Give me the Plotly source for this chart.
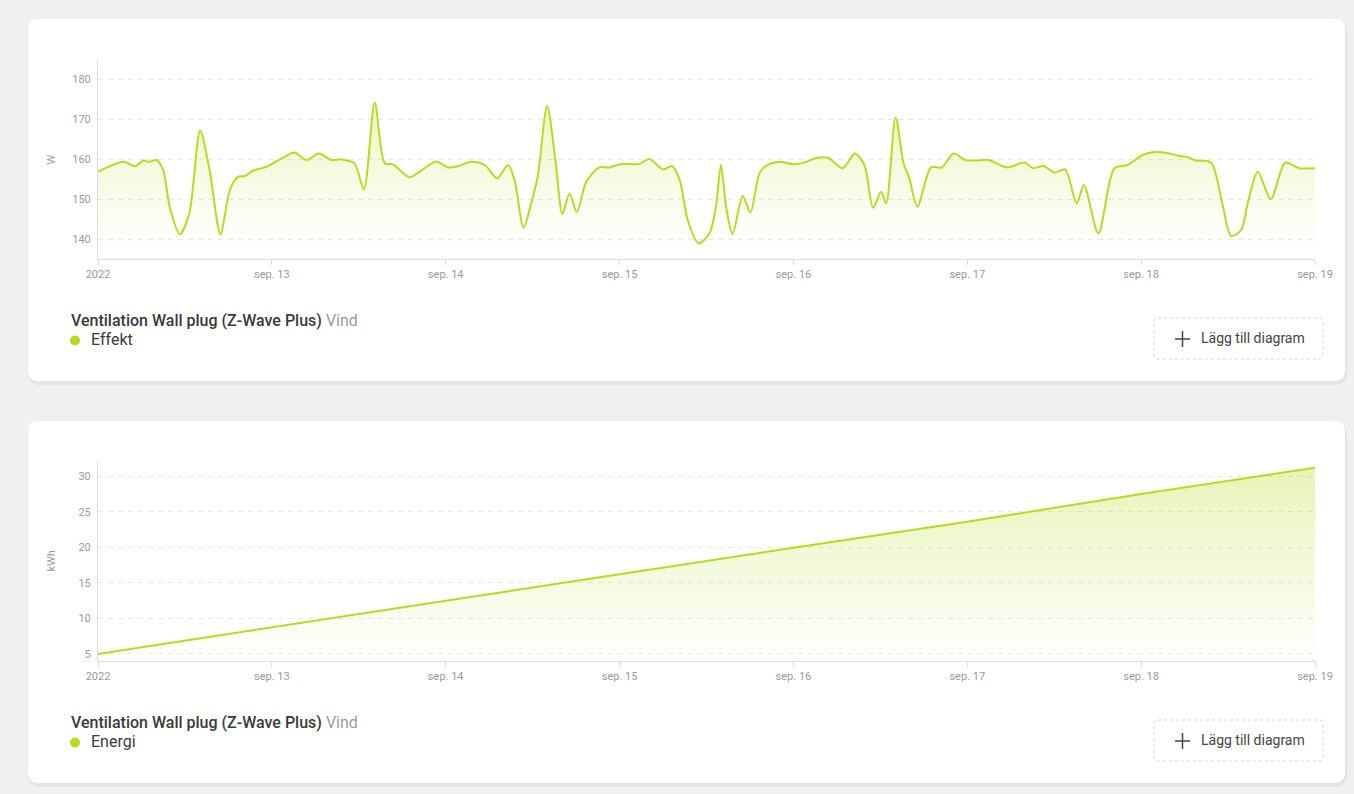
import pandas as pd
import plotly.graph_objects as go

# ---------------- data ----------------
start_day = "2022-09-12"
day_ticks = ["2022-09-12", "2022-09-13", "2022-09-14", "2022-09-15",
             "2022-09-16", "2022-09-17", "2022-09-18", "2022-09-19"]
day_labels = ["2022", "sep. 13", "sep. 14", "sep. 15", "sep. 16",
              "sep. 17", "sep. 18", "sep. 19"]

power_hours = [0, 3.5, 5.1, 6.25, 7.1, 8.1, 9.0, 9.9, 11.3, 12.6,
               14.1, 15.4, 16.9, 18.2, 19.35, 20.3, 21.4, 23.3, 25.6, 27.1,
               28.8, 30.5, 32.2, 33.6, 35.4, 36.7, 38.2, 39.6, 40.7, 43.0,
               44.6, 46.7, 48.3, 49.5, 51.5, 53.4, 55.1, 56.6, 57.5, 58.75,
               59.8, 60.7, 62.0, 63.2, 64.1, 65.1, 66.1, 67.4, 69.2, 70.6,
               72.2, 74.7, 76.1, 78.0, 79.25, 80.3, 81.4, 82.9, 84.4, 85.3,
               86.0, 86.7, 87.6, 89.0, 90.05, 91.3, 92.2, 94.0, 95.9, 97.5,
               99.3, 100.9, 102.8, 104.5, 105.8, 107.0, 108.1, 108.8, 110.1, 111.2,
               112.0, 113.1, 115.0, 116.5, 118.1, 119.7, 121.2, 122.9, 125.5, 127.9,
               129.1, 130.5, 132.1, 133.5, 135.1, 136.1, 138.1, 140.3, 142.1, 144.2,
               145.6, 147.9, 149.3, 150.2, 151.6, 153.2, 153.9, 155.3, 156.4, 157.8,
               158.7, 160.1, 161.9, 163.9, 165.8, 168]
power_w = [156.8, 159.3, 158.2, 159.6, 159.3, 159.75, 157.25, 148, 141.2, 146.4,
           167.1, 157.25, 141.2, 152.25, 155.6, 155.75, 157.1, 158.1, 160.4, 161.6,
           159.75, 161.4, 159.75, 159.9, 158.9, 152.4, 174.1, 158.9, 158.7, 155.4,
           157.1, 159.4, 157.9, 158.1, 159.3, 158.5, 155.2, 158.5, 154.75, 142.8,
           148.9, 155.6, 173.25, 158.9, 146.25, 151.4, 146.7, 154.3, 157.9, 157.9,
           158.75, 158.75, 160, 157.4, 158.25, 154.75, 144.75, 138.9, 141.4, 148.1,
           158.5, 148.1, 141.25, 150.75, 146.6, 156.4, 158.3, 159.3, 158.7, 159.1,
           160.3, 160.2, 157.7, 161.4, 158.5, 147.8, 151.8, 148.9, 170.4, 158.9,
           155.2, 148.1, 157.9, 157.9, 161.4, 159.75, 159.6, 159.75, 157.9, 159.1,
           157.7, 158.25, 156.6, 157.4, 148.9, 153.5, 141.4, 157.7, 158.5, 161,
           161.7, 161.4, 160.75, 160.6, 159.6, 159.5, 158.5, 148.1, 140.8, 142.25,
           148.9, 156.8, 150, 159.1, 157.7, 157.7]

energy_days = day_ticks
energy_kwh = [5.0, 8.7, 12.5, 16.2, 19.95, 23.6, 27.5, 31.2]

power_ticks = [140, 150, 160, 170, 180]
energy_ticks = [5, 10, 15, 20, 25, 30]

device = "Ventilation Wall plug (Z-Wave Plus)"
zone = "Vind"
power_name = "Effekt"
energy_name = "Energi"
button_text = "Lägg till diagram"

# ---------------- layout helpers ----------------
W, H = 1354, 794
GREEN = "#b6dc1e"
FONT = "Roboto"


def X(px):
    return px / W


def Y(py):
    return 1 - py / H


def rrect(x0, y0, x1, y1, r):
    return (f"M {X(x0 + r)} {Y(y0)} L {X(x1 - r)} {Y(y0)} "
            f"Q {X(x1)} {Y(y0)} {X(x1)} {Y(y0 + r)} "
            f"L {X(x1)} {Y(y1 - r)} Q {X(x1)} {Y(y1)} {X(x1 - r)} {Y(y1)} "
            f"L {X(x0 + r)} {Y(y1)} Q {X(x0)} {Y(y1)} {X(x0)} {Y(y1 - r)} "
            f"L {X(x0)} {Y(y0 + r)} Q {X(x0)} {Y(y0)} {X(x0 + r)} {Y(y0)} Z")


power_time = pd.Timestamp(start_day) + pd.to_timedelta(power_hours, unit="h")

fig = go.Figure()
fig.add_trace(go.Scatter(
    x=power_time, y=power_w, mode="lines",
    line=dict(color=GREEN, width=2, shape="spline", smoothing=0.8),
    fill="tozeroy",
    fillgradient=dict(type="vertical", start=137, stop=178,
                      colorscale=[[0, "rgba(182,220,30,0.0)"],
                                  [1, "rgba(182,220,30,0.28)"]]),
    xaxis="x", yaxis="y", hoverinfo="skip", showlegend=False))
fig.add_trace(go.Scatter(
    x=pd.to_datetime(energy_days), y=energy_kwh, mode="lines",
    line=dict(color=GREEN, width=2),
    fill="tozeroy",
    fillgradient=dict(type="vertical", start=4, stop=31.2,
                      colorscale=[[0, "rgba(182,220,30,0.0)"],
                                  [1, "rgba(182,220,30,0.32)"]]),
    xaxis="x2", yaxis="y2", hoverinfo="skip", showlegend=False))

xdom = [X(98), X(1315)]
common_x = dict(type="date", range=[day_ticks[0], day_ticks[-1]],
                tickvals=day_ticks, ticktext=day_labels,
                showgrid=False, showline=True, linecolor="#dcdce0", linewidth=1,
                ticks="outside", ticklen=5, tickcolor="#dcdce0",
                tickfont=dict(family=FONT, size=11, color="#999999"),
                zeroline=False, fixedrange=True, automargin=False)
common_y = dict(showgrid=True, gridcolor="#e8e8ea", griddash="5px,5px", gridwidth=1,
                showline=True, linecolor="#dcdce0", linewidth=1,
                ticks="outside", ticklen=4, tickcolor="rgba(0,0,0,0)",
                tickfont=dict(family=FONT, size=11, color="#999999"),
                zeroline=False, fixedrange=True, automargin=False)

fig.update_layout(
    width=W, height=H, margin=dict(l=0, r=0, t=0, b=0, pad=0, autoexpand=False),
    paper_bgcolor="#f0f0f3", plot_bgcolor="rgba(0,0,0,0)",
    font=dict(family=FONT),
    xaxis=dict(domain=xdom, anchor="y", **common_x),
    yaxis=dict(domain=[Y(259), Y(60)], anchor="x", range=[135, 184.75],
               tickvals=power_ticks, **common_y),
    xaxis2=dict(domain=xdom, anchor="y2", **common_x),
    yaxis2=dict(domain=[Y(661), Y(462)], anchor="x2", range=[4.0, 32.0],
                tickvals=energy_ticks, **common_y),
)

shapes = []
annotations = []
for off, unit, sname in [(0, "W", power_name), (402, "kWh", energy_name)]:
    # card shadow + card
    shapes.append(dict(type="path", path=rrect(28, 19 + off + 2, 1347, 381 + off + 4, 12),
                       fillcolor="#e4e4e8", line=dict(width=0), layer="below",
                       xref="paper", yref="paper"))
    shapes.append(dict(type="path", path=rrect(28, 19 + off, 1345, 381 + off, 11),
                       fillcolor="#ffffff", line=dict(width=0), layer="below",
                       xref="paper", yref="paper"))
    # legend dot
    shapes.append(dict(type="circle", xref="paper", yref="paper",
                       x0=X(70), x1=X(80), y0=Y(345.5 + off), y1=Y(335.5 + off),
                       fillcolor=GREEN, line=dict(width=0)))
    # button
    shapes.append(dict(type="path", path=rrect(1154, 318 + off, 1323, 359 + off, 4),
                       fillcolor="rgba(0,0,0,0)", line=dict(color="#d6d6d9", width=1, dash="3px,3px"),
                       xref="paper", yref="paper"))
    shapes.append(dict(type="line", xref="paper", yref="paper",
                       x0=X(1175), x1=X(1190), y0=Y(339 + off), y1=Y(339 + off),
                       line=dict(color="#444444", width=1.5)))
    shapes.append(dict(type="line", xref="paper", yref="paper",
                       x0=X(1182.5), x1=X(1182.5), y0=Y(331 + off), y1=Y(347 + off),
                       line=dict(color="#444444", width=1.5)))
    annotations.append(dict(xref="paper", yref="paper", x=X(1199), y=Y(338 + off),
                            xanchor="left", yanchor="middle", showarrow=False,
                            text=button_text,
                            font=dict(family=FONT, size=14, color="#444444")))
    # legend texts
    annotations.append(dict(xref="paper", yref="paper", x=X(69), y=Y(320.5 + off),
                            xanchor="left", yanchor="middle", showarrow=False,
                            text=f"{device} <span style='color:#9a9a9a;font-weight:400'>{zone}</span>",
                            font=dict(family=FONT, size=16, color="#3a3a3a", weight=500)))
    annotations.append(dict(xref="paper", yref="paper", x=X(89), y=Y(339.5 + off),
                            xanchor="left", yanchor="middle", showarrow=False,
                            text=sname,
                            font=dict(family=FONT, size=16, color="#3a3a3a")))
    # y-axis unit title
    annotations.append(dict(xref="paper", yref="paper", x=X(51), y=Y(159.5 + off),
                            xanchor="center", yanchor="middle", showarrow=False,
                            text=unit, textangle=-90,
                            font=dict(family=FONT, size=11, color="#999999")))

fig.update_layout(shapes=shapes, annotations=annotations)

fig.write_html("out.html", config={"displayModeBar": False},
               post_script="document.body.style.margin='0';document.body.style.overflow='hidden';")
